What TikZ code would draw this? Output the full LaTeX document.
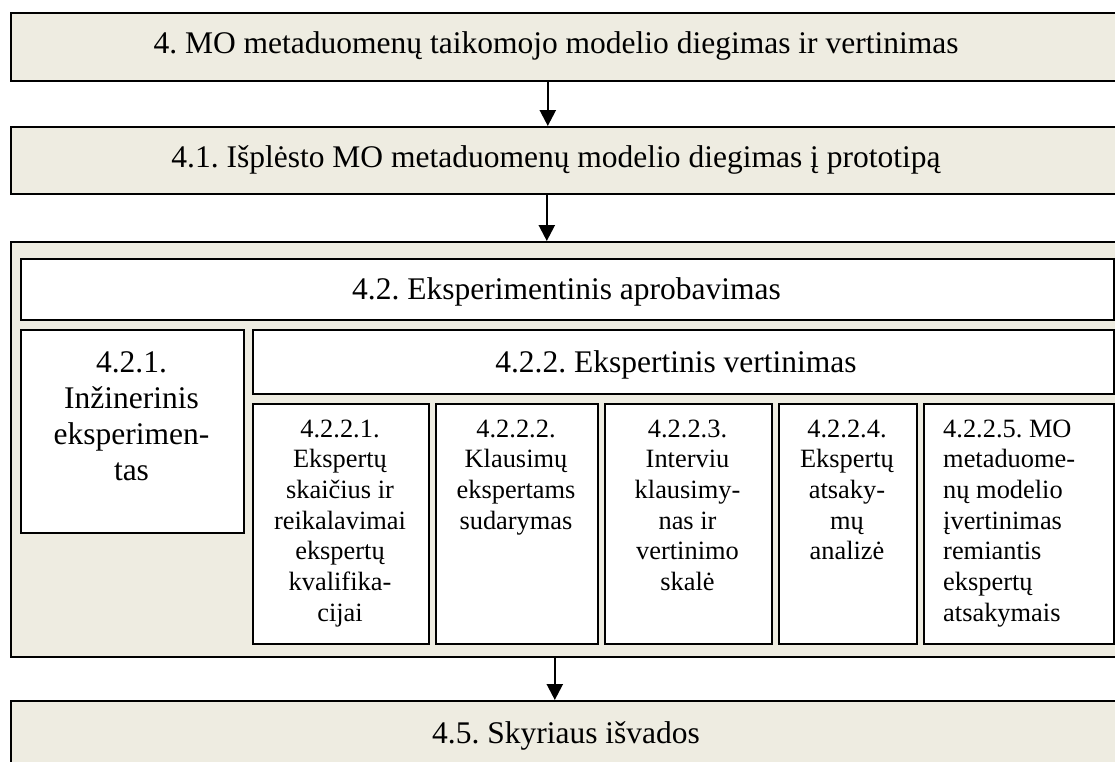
\documentclass[tikz,border=0pt]{standalone}
\usepackage{fontspec}
\setmainfont{Liberation Serif}
\usetikzlibrary{arrows.meta}
\definecolor{beige}{HTML}{EEECE1}
\frenchspacing
\begin{document}
\begin{tikzpicture}[x=1pt,y=-1pt,
  outerbox/.style={draw=black, line width=1.6pt, fill=beige, inner sep=0pt, anchor=north west},
  innerbox/.style={draw=black, line width=1.6pt, fill=white, inner sep=0pt, anchor=north west},
  bigtext/.style={font=\fontsize{31.5}{36}\selectfont, inner sep=0pt, anchor=base},
  subtext/.style={font=\fontsize{26.4}{30.7}\selectfont, inner sep=0pt, anchor=base},
  flow/.style={-{Triangle[width=16pt,length=16pt]}, line width=2.4pt},
]
\useasboundingbox (0,0) rectangle (1115,761);
\clip (0,0) rectangle (1115,761);
\fill[white] (0,0) rectangle (1115,761);

% main boxes
\node[outerbox, minimum width=1115pt, minimum height=68pt] (b1) at (10,12) {};
\node[outerbox, minimum width=1115pt, minimum height=67pt] (b2) at (10,126) {};
\node[outerbox, minimum width=1115pt, minimum height=415pt] (b3) at (10,241) {};
\node[outerbox, minimum width=1115pt, minimum height=80pt] (b5) at (10,700) {};

\node[bigtext] (b1t) at (556,53) {4. MO metaduomenų taikomojo modelio diegimas ir vertinimas};
\node[bigtext] (b2t) at (556,167) {4.1. Išplėsto MO metaduomenų modelio diegimas į prototipą};
\node[bigtext] (b5t) at (566,743) {4.5. Skyriaus išvados};

% inner boxes
\node[innerbox, minimum width=1093pt, minimum height=61pt] (b42) at (20,258) {};
\node[bigtext] (b42t) at (566.5,299) {4.2. Eksperimentinis aprobavimas};

\node[innerbox, minimum width=223pt, minimum height=203pt] (b421) at (20,329) {};
\node[bigtext] (b421t) at (131.5,372) {\parbox[t]{215pt}{\centering 4.2.1.\\ Inžinerinis\\ eksperimen-\\ tas}};

\node[innerbox, minimum width=861pt, minimum height=64pt] (b422) at (252,329) {};
\node[bigtext] (b422t) at (676,372) {4.2.2. Ekspertinis vertinimas};

% sub boxes
\node[innerbox, minimum width=176pt, minimum height=240pt] (s1) at (252,403) {};
\node[innerbox, minimum width=162pt, minimum height=240pt] (s2) at (435,403) {};
\node[innerbox, minimum width=167pt, minimum height=240pt] (s3) at (604,403) {};
\node[innerbox, minimum width=138pt, minimum height=240pt] (s4) at (778,403) {};
\node[innerbox, minimum width=190pt, minimum height=240pt] (s5) at (923,403) {};

\node[subtext] (s1t) at (340,437) {\parbox[t]{170pt}{\centering 4.2.2.1.\\ Ekspertų\\ skaičius ir\\ reikalavimai\\ ekspertų\\ kvalifika-\\ cijai}};
\node[subtext] (s2t) at (516,437) {\parbox[t]{156pt}{\centering 4.2.2.2.\\ Klausimų\\ ekspertams\\ sudarymas}};
\node[subtext] (s3t) at (687.5,437) {\parbox[t]{160pt}{\centering 4.2.2.3.\\ Interviu\\ klausimy-\\ nas ir\\ vertinimo\\ skalė}};
\node[subtext] (s4t) at (847,437) {\parbox[t]{132pt}{\centering 4.2.2.4.\\ Ekspertų\\ atsaky-\\ mų\\ analizė}};
\node[subtext, anchor=base west] (s5t) at (943,437) {\parbox[t]{165pt}{\raggedright 4.2.2.5. MO\\ metaduome-\\ nų modelio\\ įvertinimas\\ remiantis\\ ekspertų\\ atsakymais}};

% arrows
\draw[flow] ([xshift=-20.5pt]b1.south) -- ([xshift=-20.5pt]b2.north);
\draw[flow] ([xshift=-21.5pt]b2.south) -- ([xshift=-21.5pt]b3.north);
\draw[flow] ([xshift=-13.5pt]b3.south) -- ([xshift=-13.5pt]b5.north);
\end{tikzpicture}
\end{document}
